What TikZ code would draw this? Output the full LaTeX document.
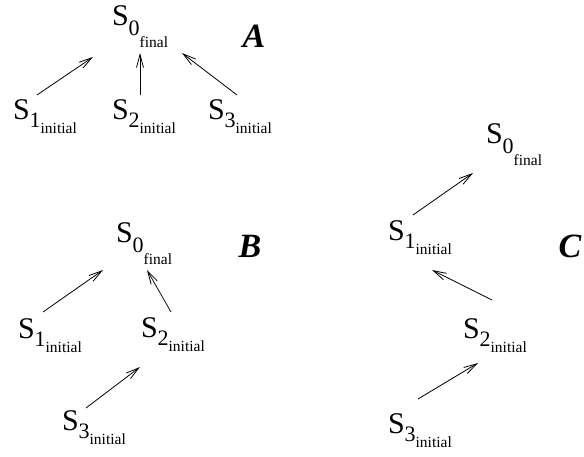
\documentclass[tikz,border=0pt]{standalone}
\usepackage{fontspec}
\setmainfont{Liberation Serif}
\usetikzlibrary{arrows.meta,calc}
\newcommand\Sfont{\fontsize{30}{30}\selectfont}
\newcommand\Dfont{\fontsize{22}{22}\selectfont}
\newcommand\Tfont{\fontsize{15.5}{15.5}\selectfont}
\newcommand\slbl[4]{\Sfont S\raisebox{-#3}{\Dfont #1\raisebox{-#4}{\Tfont #2}}}
\newcommand\fin[1]{\slbl{#1}{final}{10pt}{12pt}}
\newcommand\ini[1]{\slbl{#1}{initial}{8pt}{6pt}}
\tikzset{
  st/.style={anchor=base west, inner sep=0pt, outer sep=0pt},
  panel/.style={inner sep=0pt, font=\fontsize{34}{34}\selectfont\bfseries\itshape},
  arr/.style={-{Straight Barb[length=13pt,width=7pt]}, line width=0.8pt}
}
\begin{document}
\begin{tikzpicture}[x=1pt,y=-1pt]
\useasboundingbox (0,0) rectangle (584,456);
% Panel A
\node[st] (A0) at (112,25) {\fin{0}};
\node[st] (A1) at (13,119) {\ini{1}};
\node[st] (A2) at (112,119) {\ini{2}};
\node[st] (A3) at (208,119) {\ini{3}};
\node[panel] (LA) at (254,36) {A};
\draw[arr] ($(A1.base west)+(24,-24)$) -- ($(A0.base west)+(-19,32)$);
\draw[arr] ($(A2.base west)+(28,-24)$) -- ($(A0.base west)+(28,28)$);
\draw[arr] ($(A3.base west)+(29,-24)$) -- ($(A0.base west)+(70,28)$);
% Panel B
\node[st] (B0) at (116,242) {\fin{0}};
\node[st] (B1) at (18,338) {\ini{1}};
\node[st] (B2) at (141,337) {\ini{2}};
\node[st] (B3) at (62,430) {\ini{3}};
\node[panel] (LB) at (250,246) {B};
\draw[arr] ($(B1.base west)+(25,-26)$) -- ($(B0.base west)+(-13,28)$);
\draw[arr] ($(B2.base west)+(30,-25)$) -- ($(B0.base west)+(31,28)$);
\draw[arr] ($(B3.base west)+(24,-22)$) -- ($(B2.base west)+(-1,30)$);
% Panel C
\node[st] (C0) at (486,143) {\fin{0}};
\node[st] (C1) at (388,240) {\ini{1}};
\node[st] (C2) at (463,338) {\ini{2}};
\node[st] (C3) at (388,433) {\ini{3}};
\node[panel] (LC) at (570,246) {C};
\draw[arr] ($(C1.base west)+(25,-25)$) -- ($(C0.base west)+(-13,30)$);
\draw[arr] ($(C2.base west)+(29,-38)$) -- ($(C1.base west)+(44,30)$);
\draw[arr] ($(C3.base west)+(30,-34)$) -- ($(C2.base west)+(15,25)$);
\end{tikzpicture}
\end{document}
